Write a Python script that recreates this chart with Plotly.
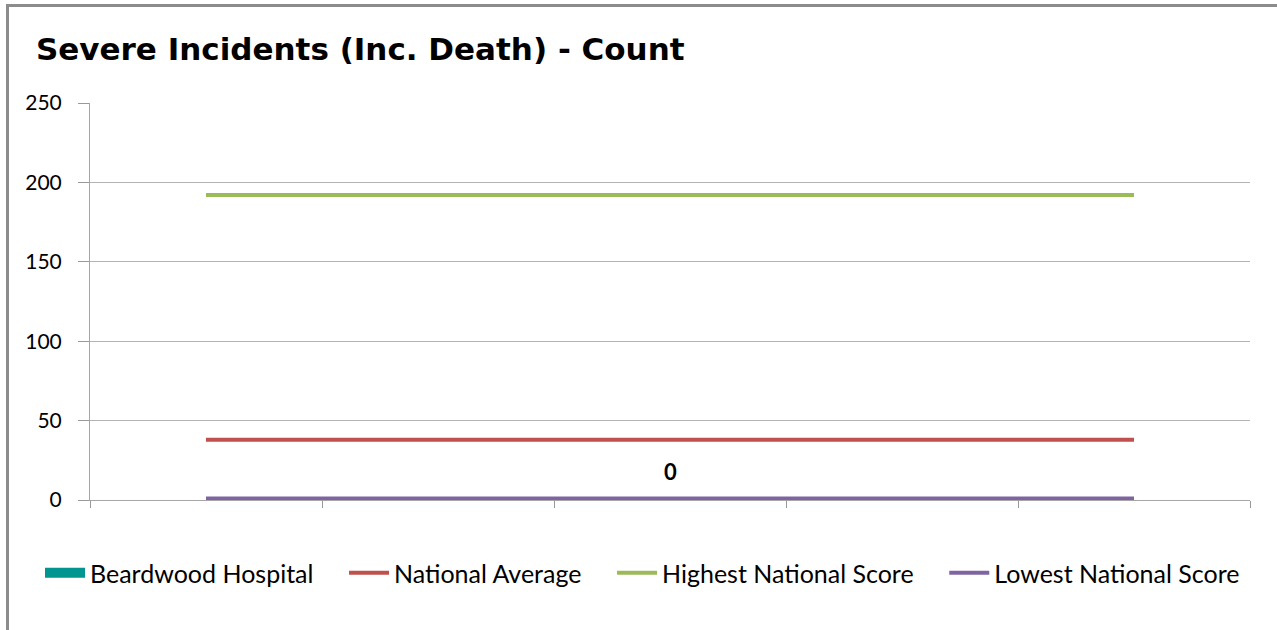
import plotly.graph_objects as go

# ---- data ----
categories = [1, 2, 3, 4, 5]
beardwood_x = [3]
beardwood = [0]
national_average = [38, 38, 38, 38, 38]
highest_national = [192, 192, 192, 192, 192]
lowest_national = [1, 1, 1, 1, 1]
y_ticks = [0, 50, 100, 150, 200, 250]
series_names = ["Beardwood Hospital", "National Average",
                "Highest National Score", "Lowest National Score"]

W, H = 1277, 630
L, R, T, B = 90, 27, 103, 130

FONT = "Lato"
TFONT = "DejaVu Sans"
TEAL = "#00968F"
PAD = "\u00a0" * 4  # extra spacing after legend labels, as in the original

fig = go.Figure()

fig.add_trace(go.Bar(x=beardwood_x, y=beardwood, name=series_names[0],
                     marker_color=TEAL, width=0.5, showlegend=False))
# legend entry for the bar series (wide box as in the original)
fig.add_trace(go.Scatter(x=[None], y=[None], mode="lines", name=series_names[0] + PAD,
                         line=dict(color=TEAL, width=13)))
fig.add_trace(go.Scatter(x=categories, y=national_average, mode="lines",
                         name=series_names[1] + PAD, line=dict(color="#C0504D", width=4)))
fig.add_trace(go.Scatter(x=categories, y=highest_national, mode="lines",
                         name=series_names[2] + PAD, line=dict(color="#9BBB59", width=4)))
fig.add_trace(go.Scatter(x=categories, y=lowest_national, mode="lines",
                         name=series_names[3], line=dict(color="#8064A2", width=4)))

fig.add_annotation(x=beardwood_x[0], y=beardwood[0], text="<b>0</b>", showarrow=False,
                   yshift=29, font=dict(family=FONT, size=22, color="#000"))

pw = W - L - R
ph = H - T - B
def px(x):
    return (x - L) / pw
def py(y):
    return (H - B - y) / ph

# chart-area border (top and left edges)
fig.add_shape(type="line", xref="paper", yref="paper", x0=px(7), x1=px(1285),
              y0=py(5.5), y1=py(5.5), line=dict(color="#8c8c8c", width=3))
fig.add_shape(type="line", xref="paper", yref="paper", x0=px(7.5), x1=px(7.5),
              y0=py(4), y1=py(640), line=dict(color="#8c8c8c", width=3))

fig.update_layout(
    width=W, height=H,
    margin=dict(l=L, r=R, t=T, b=B),
    paper_bgcolor="white", plot_bgcolor="white",
    font=dict(family=FONT, size=21, color="#000"),
    title=dict(text="<b>Severe Incidents (Inc. Death) - Count</b>",
               x=36 / W, xref="container", xanchor="left",
               y=1 - 49 / H, yref="container", yanchor="middle",
               font=dict(family=TFONT, size=31, color="#000")),
    showlegend=True,
    legend=dict(orientation="h", x=px(40), xanchor="left", y=py(573), yanchor="middle",
                font=dict(family=FONT, size=25, color="#000"),
                traceorder="normal", itemwidth=40, tracegroupgap=0),
    bargap=0.5,
)
fig.update_xaxes(range=[0.5, 5.5], tickvals=[0.5, 1.5, 2.5, 3.5, 4.5, 5.5],
                 showticklabels=False, ticks="outside", ticklen=7, tickcolor="#999",
                 showgrid=False, showline=True, linecolor="#a6a6a6", linewidth=1,
                 zeroline=False, fixedrange=True)
fig.update_yaxes(range=[0, 250], tickvals=y_ticks, ticks="outside", ticklen=11,
                 ticklabelstandoff=12,
                 tickcolor="#999", showgrid=True, gridcolor="#b3b3b3", gridwidth=1,
                 showline=True, linecolor="#a6a6a6", linewidth=1, zeroline=False,
                 tickfont=dict(family=FONT, size=21, color="#000"), fixedrange=True)

fig.write_html("out.html", config={"displayModeBar": False},
               post_script="document.body.style.margin='0';")
